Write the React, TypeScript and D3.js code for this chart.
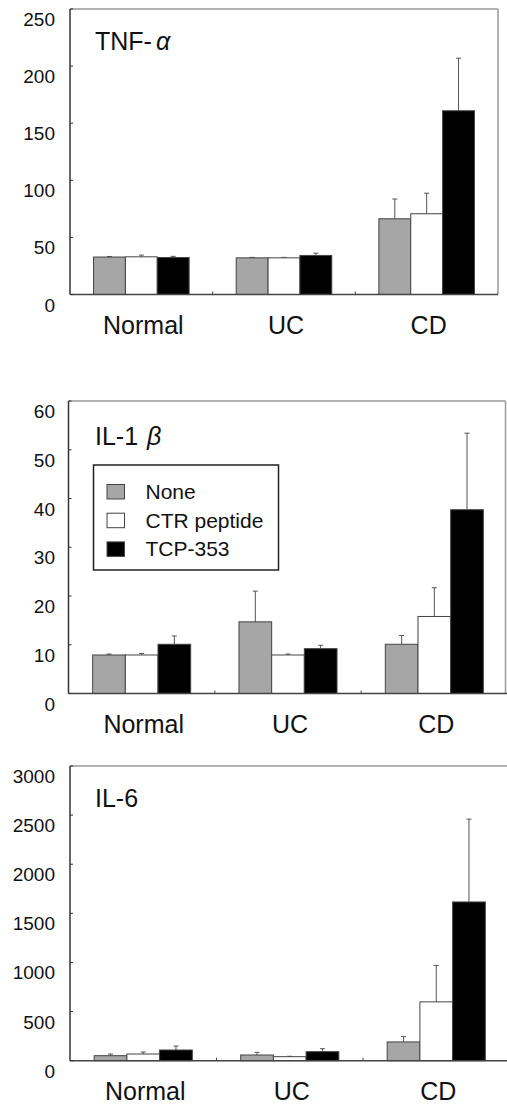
import React from "react";
import * as d3 from "d3";

// groups and treatments
const categories = ["Normal", "UC", "CD"];
const treatments = ["None", "CTR peptide", "TCP-353"];
const fills = ["#a6a6a6", "#ffffff", "#000000"];

// TNF-alpha
const tnfNone = [32.8, 32.1, 66.3];
const tnfNoneErr = [0.5, 0.4, 17.3];
const tnfCtr = [33.0, 32.1, 70.7];
const tnfCtrErr = [1.5, 0.4, 18.0];
const tnfTcp = [32.4, 34.2, 160.9];
const tnfTcpErr = [1.0, 2.0, 46.0];
const tnfTicks = [0, 50, 100, 150, 200, 250];

// IL-1 beta
const il1None = [7.9, 14.7, 10.1];
const il1NoneErr = [0.2, 6.3, 1.8];
const il1Ctr = [7.9, 7.9, 15.8];
const il1CtrErr = [0.3, 0.2, 5.9];
const il1Tcp = [10.1, 9.2, 37.7];
const il1TcpErr = [1.7, 0.7, 15.7];
const il1Ticks = [0, 10, 20, 30, 40, 50, 60];

// IL-6
const il6None = [51, 58, 191];
const il6NoneErr = [17, 27, 54];
const il6Ctr = [68, 41, 599];
const il6CtrErr = [20, 4, 370];
const il6Tcp = [109, 92, 1616];
const il6TcpErr = [40, 30, 843];
const il6Ticks = [0, 500, 1000, 1500, 2000, 2500, 3000];

const font = "'Liberation Sans', Arial, sans-serif";

type PanelProps = {
  values: number[][];
  errors: number[][];
  ticks: number[];
  top: number;
  bottom: number;
  left: number;
  right: number;
  bandRight: number;
  title: React.ReactNode;
  titleY: number;
  legend?: boolean;
};

function Panel({ values, errors, ticks, top, bottom, left, right, bandRight, title, titleY, legend }: PanelProps) {
  const maxV = ticks[ticks.length - 1];
  const y = d3.scaleLinear().domain([0, maxV]).range([bottom, bottom - (bottom - top) * 1.0]);
  const x = d3.scaleBand().domain(categories).range([left, bandRight]).paddingInner(0).paddingOuter(0);
  const groupW = x.bandwidth() * 0.67;
  const x1 = d3.scaleBand().domain(treatments).range([0, groupW]);

  return (
    <g>
      {/* frame top / right */}
      <line x1={left} x2={right} y1={top} y2={top} stroke="#999" strokeWidth={1.5} />
      <line x1={right} x2={right} y1={top} y2={bottom} stroke="#999" strokeWidth={1.5} />

      {/* bars */}
      {categories.map((c, ci) => {
        const gx = (x(c) as number) + (x.bandwidth() - groupW) / 2;
        return treatments.map((t, ti) => {
          const v = values[ti][ci];
          const e = errors[ti][ci];
          const bx = gx + (x1(t) as number);
          const cx = bx + x1.bandwidth() / 2;
          return (
            <g key={c + t}>
              <line x1={cx} x2={cx} y1={y(v)} y2={y(v + e)} stroke="#555" strokeWidth={1} />
              <line x1={cx - 2.5} x2={cx + 2.5} y1={y(v + e)} y2={y(v + e)} stroke="#555" strokeWidth={1} />
              <rect x={bx} y={y(v)} width={x1.bandwidth()} height={bottom - y(v)} fill={fills[ti]} stroke="#444" strokeWidth={1} />
            </g>
          );
        });
      })}

      {/* axes */}
      <line x1={left} x2={left} y1={top} y2={bottom} stroke="#333" strokeWidth={1.5} />
      <line x1={left} x2={Math.max(right, bandRight)} y1={bottom} y2={bottom} stroke="#444" strokeWidth={1.5} />
      {ticks.map((t) => (
        <g key={t}>
          <line x1={left} x2={left + 3} y1={y(t)} y2={y(t)} stroke="#333" strokeWidth={1} />
          <text x={55} y={y(t) + 17} textAnchor="end" fontSize={19} fontFamily={font} fill="#111">
            {t}
          </text>
        </g>
      ))}
      {categories.slice(1).map((c) => (
        <line key={c} x1={x(c) as number} x2={x(c) as number} y1={bottom} y2={bottom - 3} stroke="#444" strokeWidth={1} />
      ))}
      {categories.map((c) => (
        <text key={c} x={(x(c) as number) + x.bandwidth() / 2 + 2} y={bottom + 39} textAnchor="middle" fontSize={25} fontFamily={font} fill="#111">
          {c}
        </text>
      ))}

      <text x={95} y={titleY} fontSize={25} fontFamily={font} fill="#111">
        {title}
      </text>

      {legend && (
        <g>
          <rect x={93.5} y={465} width={185} height={105} fill="#fff" stroke="#222" strokeWidth={1.5} />
          {treatments.map((t, i) => (
            <g key={t}>
              <rect x={107} y={484.5 + i * 28.7} width={17.5} height={14.5} fill={fills[i]} stroke="#444" strokeWidth={1} />
              <text x={145.5} y={499 + i * 28.7} fontSize={21} fontFamily={font} fill="#111">
                {t}
              </text>
            </g>
          ))}
        </g>
      )}
    </g>
  );
}

export default function App() {
  return (
    <div style={{ position: "absolute", left: 0, top: 0 }}>
      <svg width={507} height={1104} style={{ display: "block", background: "#fff" }}>
        <Panel
          values={[tnfNone, tnfCtr, tnfTcp]}
          errors={[tnfNoneErr, tnfCtrErr, tnfTcpErr]}
          ticks={tnfTicks}
          top={9}
          bottom={294.5}
          left={70}
          right={498}
          bandRight={498}
          titleY={50}
          title={
            <>
              TNF-<tspan dx={4} fontStyle="italic">α</tspan>
            </>
          }
        />
        <Panel
          values={[il1None, il1Ctr, il1Tcp]}
          errors={[il1NoneErr, il1CtrErr, il1TcpErr]}
          ticks={il1Ticks}
          top={401}
          bottom={693.5}
          left={68.5}
          right={505.5}
          bandRight={507.5}
          titleY={445}
          legend
          title={
            <>
              IL-1 <tspan dx={2} fontStyle="italic">β</tspan>
            </>
          }
        />
        <Panel
          values={[il6None, il6Ctr, il6Tcp]}
          errors={[il6NoneErr, il6CtrErr, il6TcpErr]}
          ticks={il6Ticks}
          top={766}
          bottom={1060.7}
          left={70}
          right={510}
          bandRight={509.5}
          titleY={806.5}
          title={<>IL-6</>}
        />
      </svg>
    </div>
  );
}
